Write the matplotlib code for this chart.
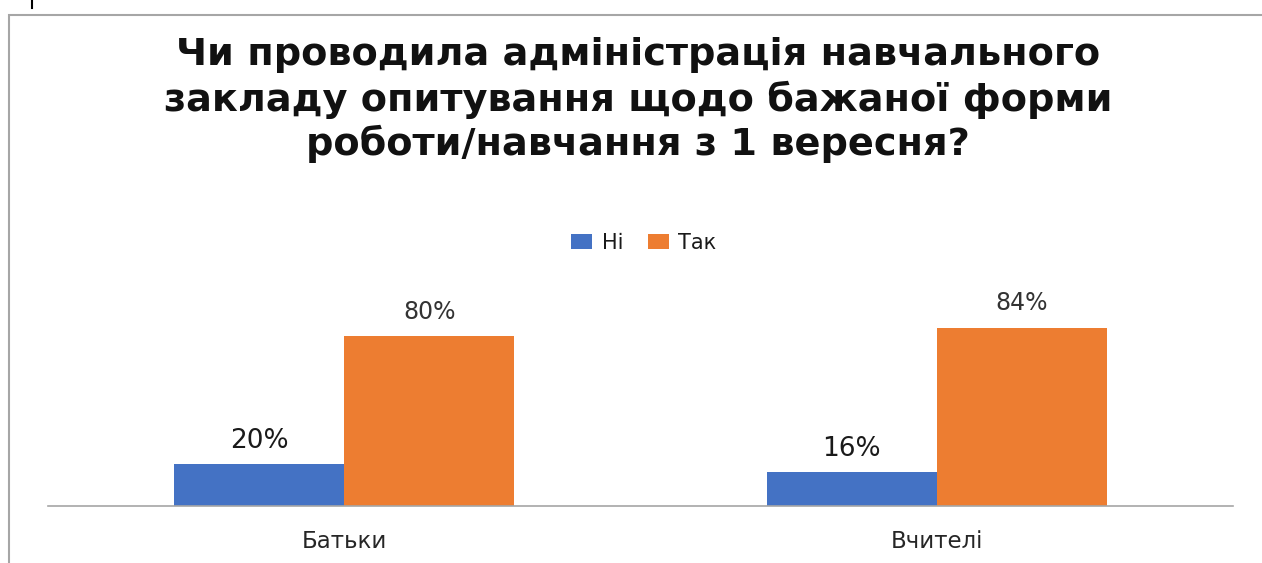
import matplotlib.pyplot as plt
import numpy as np
from matplotlib.patches import Rectangle
from matplotlib.lines import Line2D

# дані з діаграми
groups = ['Батьки', 'Вчителі']
ni = [20, 16]
tak = [80, 84]
series_names = ['Ні', 'Так']
title_lines = ['Чи проводила адміністрація навчального',
               'закладу опитування щодо бажаної форми',
               'роботи/навчання з 1 вересня?']

blue = '#4472C4'
orange = '#ED7D31'

W, H = 1262, 563
fig = plt.figure(figsize=(W / 100, H / 100), dpi=100)

# рамка області діаграми (обрізана праворуч і знизу)
fig.patches.append(Rectangle((9 / W, -0.1), 1.2, 1 - 15 / H + 0.1,
                             transform=fig.transFigure, fill=False,
                             edgecolor='#a6a6a6', linewidth=1.5))
fig.lines.append(Line2D([32 / W, 32 / W], [1, 1 - 8 / H],
                        transform=fig.transFigure, color='black', linewidth=1.5))

# заголовок
title_y = [55, 100, 144]
for line, yy in zip(title_lines, title_y):
    fig.text(638 / W, 1 - yy / H, line, ha='center', va='center',
             fontsize=27.5, family='DejaVu Sans', weight='bold', color='#111111')

ax = fig.add_axes([48 / W, 1 - 506 / H, 1185 / W, 221 / H])
x = np.arange(len(groups))
w = 0.287
b1 = ax.bar(x - w / 2, ni, w, color=blue, label=series_names[0])
b2 = ax.bar(x + w / 2, tak, w, color=orange, label=series_names[1])

ax.set_xlim(-0.5, 1.5)
ax.set_ylim(0, 104)
for s in ['top', 'right', 'left']:
    ax.spines[s].set_visible(False)
ax.spines['bottom'].set_color('#a6a6a6')
ax.spines['bottom'].set_linewidth(1.2)
ax.set_yticks([])
ax.set_xticks(x)
ax.set_xticklabels(groups, fontsize=16.5, family='DejaVu Sans', color='#262626')
ax.tick_params(axis='x', length=0, pad=17)

for r, v in zip(b1, ni):
    ax.annotate(f'{v}%', (r.get_x() + r.get_width() / 2, v), xytext=(0, 16),
                textcoords='offset pixels', ha='center', va='baseline',
                fontsize=19, family='DejaVu Sans', color='#1a1a1a')
for r, v in zip(b2, tak):
    ax.annotate(f'{v}%', (r.get_x() + r.get_width() / 2, v), xytext=(0, 17),
                textcoords='offset pixels', ha='center', va='baseline',
                fontsize=17, family='DejaVu Sans', color='#333333')

leg = fig.legend(loc='center', bbox_to_anchor=(644 / W, 1 - 243 / H), ncol=2,
                 frameon=False, handlelength=1.0, handleheight=0.72,
                 handletextpad=0.45, columnspacing=1.2,
                 prop={'family': 'DejaVu Sans', 'size': 15})
for t in leg.get_texts():
    t.set_color('#1a1a1a')

fig.savefig('out.png', dpi=100)
